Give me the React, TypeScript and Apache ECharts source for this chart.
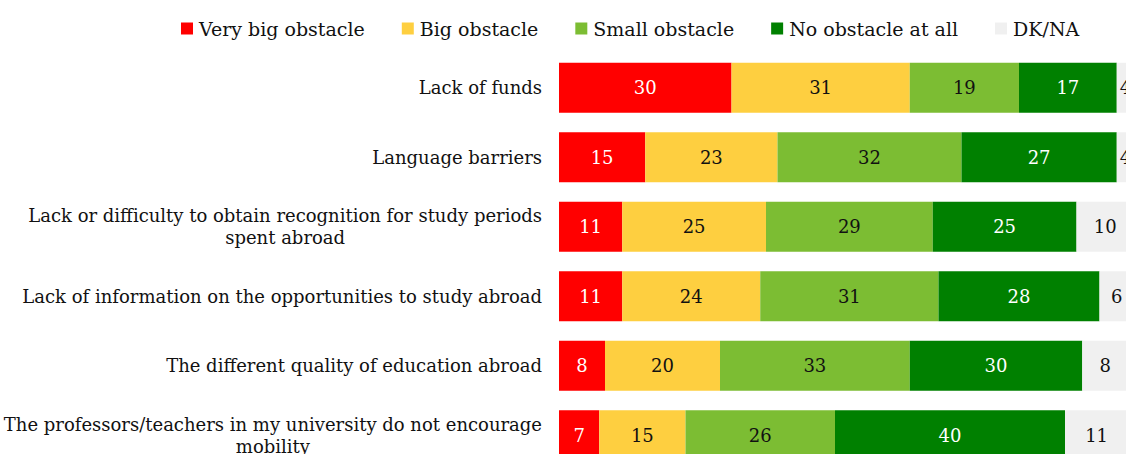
import React, { useEffect, useRef } from "react";
import * as echarts from "echarts";

const categories = [
  "Lack of funds",
  "Language barriers",
  "Lack or difficulty to obtain recognition for study periods\nspent abroad",
  "Lack of information on the opportunities to study abroad",
  "The different quality of education abroad",
  "The professors/teachers in my university do not encourage\nmobility",
];
const seriesNames = ["Very big obstacle", "Big obstacle", "Small obstacle", "No obstacle at all", "DK/NA"];
const veryBig = [30, 15, 11, 11, 8, 7];
const big = [31, 23, 25, 24, 20, 15];
const small = [19, 32, 29, 31, 33, 26];
const noObstacle = [17, 27, 25, 28, 30, 40];
const dkna = [4, 4, 10, 6, 8, 11];
const colors = ["#ff0000", "#fecf40", "#7cbd33", "#008000", "#f0f0f0"];
const labelColors = ["#ffffff", "#111111", "#111111", "#ffffff", "#111111"];

const FONT = "DejaVu Serif";

export default function App() {
  const ref = useRef<HTMLDivElement>(null);
  useEffect(() => {
    if (!ref.current) return;
    const chart = echarts.init(ref.current, null, { renderer: "svg" });
    const values = [veryBig, big, small, noObstacle, dkna];
    chart.setOption({
      animation: false,
      textStyle: { fontFamily: FONT },
      legend: {
        left: 181,
        top: 19,
        padding: 0,
        itemWidth: 12,
        itemHeight: 12,
        itemGap: 37,
        icon: "rect",
        selectedMode: false,
        textStyle: { fontFamily: FONT, fontSize: 19, color: "#111", padding: [0, 0, 0, 1] },
        data: seriesNames,
      },
      grid: { left: 559, top: 53, right: 0, bottom: 0, containLabel: false },
      xAxis: {
        type: "value",
        min: 0,
        max: 100,
        show: false,
      },
      yAxis: {
        type: "category",
        inverse: true,
        data: categories,
        axisLine: { show: false },
        axisTick: { show: false },
        axisLabel: {
          margin: 17,
          fontFamily: FONT,
          fontSize: 18,
          color: "#111",
          lineHeight: 22,
          formatter: (v: string) => v.split("\n").map((l) => `{c|${l}}`).join("\n"),
          rich: { c: { align: "center", fontFamily: FONT, fontSize: 18, color: "#111", lineHeight: 22 } },
        },
      },
      series: seriesNames.map((name, i) => ({
        name,
        type: "bar",
        stack: "total",
        barWidth: 50,
        data: values[i],
        itemStyle: { color: colors[i] },
        label: {
          show: true,
          position: "inside",
          fontFamily: FONT,
          fontSize: 18,
          color: labelColors[i],
        },
      })),
    });
    return () => chart.dispose();
  }, []);
  return (
    <div style={{ position: "fixed", left: 0, top: 0, width: 1126, height: 454, overflow: "hidden", background: "#fff" }}>
      <div ref={ref} style={{ position: "absolute", left: 0, top: 0, width: 1134, height: 470 }} />
    </div>
  );
}
